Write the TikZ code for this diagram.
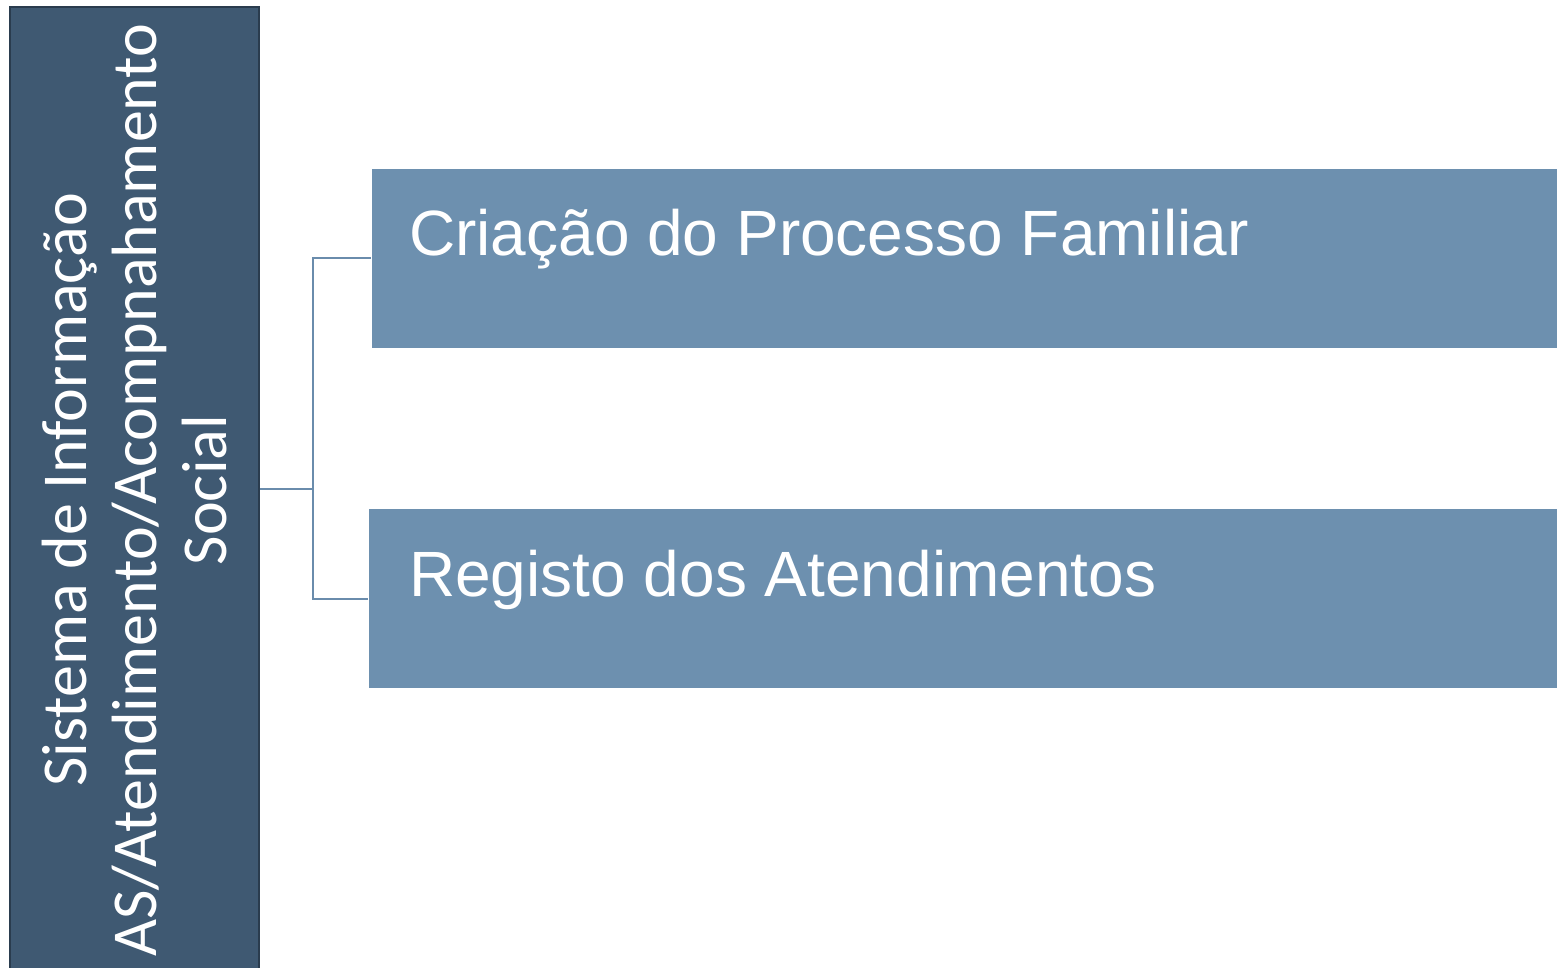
\documentclass[tikz,border=0pt]{standalone}
\usepackage{fontspec}
\setmainfont{Liberation Sans}
\newfontfamily\calib{Carlito}
\definecolor{leftfill}{HTML}{3F5972}
\definecolor{leftdraw}{HTML}{2A3C4E}
\definecolor{boxfill}{HTML}{6D90AF}
\definecolor{linkcol}{HTML}{6A8CAC}
\tikzset{
  mainbox/.style={draw=leftdraw, line width=2pt, fill=leftfill, minimum width=966pt, minimum height=249pt, inner sep=0pt, rotate=90,
    text=white, align=center, font=\calib\fontsize{64pt}{70pt}\selectfont},
  itembox/.style={draw=white, line width=1pt, fill=boxfill, inner sep=0pt, minimum height=180pt, anchor=north west},
  itemtext/.style={text=white, anchor=base west, inner sep=0pt, font=\fontsize{64pt}{74pt}\selectfont},
  link/.style={draw=linkcol, line width=2pt}
}
\begin{document}
\begin{tikzpicture}[x=1pt,y=-1pt]
\useasboundingbox (0,0) rectangle (1557,968);
\node[mainbox] (main) at (134.5,490) {Sistema de Informação\\AS/Atendimento/Acompnahamento\\Social};
\node[itembox, minimum width=1195pt] (b1) at (371,168) {};
\node[itembox, minimum width=1195pt] (b2) at (368,508) {};
\node[itemtext] (t1) at (409,256) {Criação do Processo Familiar};
\node[itemtext] (t2) at (409,596) {Registo dos Atendimentos};
\coordinate (fork) at (313,489);
\draw[link] (main.south |- fork) -- (fork);
\draw[link] (fork) |- (b1.west);
\draw[link] (fork) |- (b2.west);
\end{tikzpicture}
\end{document}
